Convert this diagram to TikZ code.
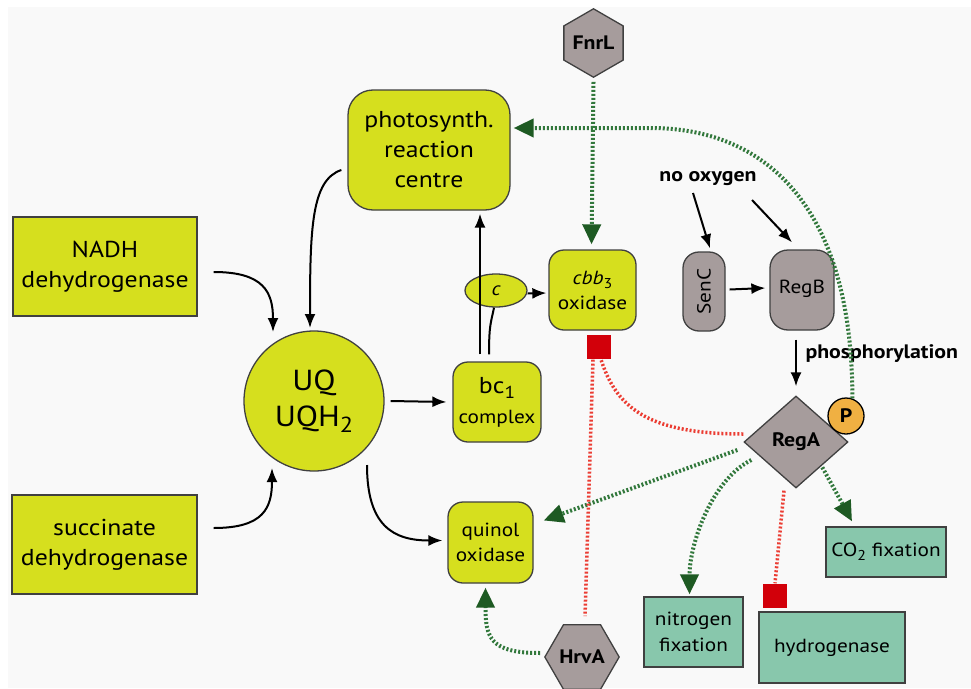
\documentclass[tikz,border=0pt]{standalone}
\usepackage{fontspec}
\setmainfont{PT Sans}[FakeStretch=1.12]
\usetikzlibrary{shapes,arrows.meta,positioning}
\definecolor{paper}{RGB}{249,249,249}
\definecolor{leaf}{RGB}{214,223,30}
\definecolor{stone}{RGB}{166,156,156}
\definecolor{sea}{RGB}{136,199,172}
\definecolor{amber}{RGB}{240,176,66}
\definecolor{stopred}{RGB}{210,0,10}
\definecolor{rline}{RGB}{235,60,50}
\definecolor{gline}{RGB}{50,120,60}
\definecolor{ghead}{RGB}{30,90,35}
\newcommand{\lowsub}[1]{\raisebox{-0.45ex}{\scalebox{0.75}{#1}}}

\begin{document}
\begin{tikzpicture}[x=1pt, y=-1pt,
		leafbox/.style={draw=black!75, line width=1.3pt, fill=leaf, align=center, inner sep=0pt, font=\fontsize{23}{30}\selectfont},
		midtext/.style={font=\fontsize{19}{25}\selectfont},
		greybox/.style={draw=black!75, line width=1.3pt, fill=stone, align=center, inner sep=0pt},
		tealbox/.style={draw=black!75, line width=1.3pt, fill=sea, align=center, inner sep=0pt, font=\fontsize{19}{26}\selectfont},
		boldtext/.style={font=\bfseries\fontsize{19.5}{22}\selectfont},
		stopper/.style={fill=stopred, minimum size=24pt, inner sep=0pt},
		blk/.style={line width=2pt, -{Latex[length=14pt,width=11pt]}},
		activ/.style={draw=gline, line width=4pt, dash pattern=on 2pt off 2pt, -{Triangle[length=20pt,width=18pt,color=ghead]}},
		repress/.style={draw=rline, line width=3.5pt, dash pattern=on 2pt off 2pt}]
	\fill[white] (0,0) rectangle (971,688);
	\fill[paper] (8,7) rectangle (971,688);
	\useasboundingbox (0,0) rectangle (971,688);

	\node [leafbox, minimum width=184pt, minimum height=99pt] (nadh) at (105,266.5) {NADH\\dehydrogenase};
	\node [leafbox, minimum width=185pt, minimum height=99pt] (succ) at (104.5,544.5) {succinate\\dehydrogenase};
	\node [leafbox, circle, minimum size=140pt, font=\fontsize{29}{36}\selectfont] (uq) at (314,401) {UQ\\UQH\lowsub{2}};
	\node [leafbox, rounded corners=25pt, minimum width=162pt, minimum height=120pt] (psr) at (429,150) {photosynth.\\reaction\\centre};
	\node [leafbox, rounded corners=15pt, minimum width=88pt, minimum height=80pt] (bc) at (497,402) {bc\lowsub{1}\\{\fontsize{19}{25}\selectfont complex}};
	\node [leafbox, ellipse, minimum width=62pt, minimum height=33pt, midtext] (cyt) at (496,290.5) {\itshape c};
	\node [leafbox, rounded corners=15pt, minimum width=87pt, minimum height=80pt, midtext] (cbb) at (592.5,290) {\textit{cbb}\lowsub{3}\\oxidase};
	\node [leafbox, rounded corners=15pt, minimum width=85pt, minimum height=81pt, midtext] (quinol) at (490.5,542.5) {quinol\\oxidase};

	\node [greybox, regular polygon, regular polygon sides=6, shape border rotate=30, minimum size=66pt, boldtext] (fnrl) at (593.5,43) {FnrL};
	\node [greybox, regular polygon, regular polygon sides=6, minimum size=70pt, boldtext] (hrva) at (582,657) {HrvA};
	\node [greybox, rounded corners=16pt, minimum width=42pt, minimum height=79pt, midtext] (senc) at (704,291.5) {\rotatebox{90}{SenC}};
	\node [greybox, rounded corners=18pt, minimum width=64pt, minimum height=80pt, midtext] (regb) at (802,290) {\raisebox{7pt}{RegB}};
	\node [greybox, diamond, minimum width=104pt, minimum height=92pt, boldtext] (rega) at (796,442) {RegA};
	\node [draw=black, line width=1.3pt, fill=amber, circle, minimum size=36pt, inner sep=0pt, boldtext] (pho) at (846,416) {P};

	\node [tealbox, minimum width=120pt, minimum height=50pt] (co2) at (886,552) {CO\lowsub{2} fixation};
	\node [tealbox, minimum width=99pt, minimum height=70pt] (nitro) at (693.5,632) {nitrogen\\fixation};
	\node [tealbox, minimum width=146pt, minimum height=71pt] (hyd) at (832,647.5) {hydrogenase};

	\node [stopper] (stopcbb) at (599,346.5) {};
	\node [stopper] (stophyd) at (775,595.5) {};

	\node [boldtext] (noox) at (708,179) {no oxygen};
	\node [boldtext, anchor=west] (phos) at (802,354) {phosphorylation};

	\draw [blk] ([shift={(16,5.5)}]nadh.east) .. controls +(50,0) and +(0,-40) .. ([shift={(-41,-69)}]uq.center);
	\draw [blk] ([shift={(16,-16.5)}]succ.east) .. controls +(50,0) and +(0,40) .. ([shift={(-42,67)}]uq.center);
	\draw [blk] ([shift={(-6,20)}]psr.west) .. controls +(-30,10) and +(0,-100) .. ([shift={(-4,-73)}]uq.center);
	\draw [blk] ([shift={(6,0)}]uq.east) -- ([shift={(-6,0)}]bc.west);
	\draw [blk] ([shift={(53,64)}]uq.center) .. controls +(0,60) and +(-50,0) .. ([shift={(-5,-2)}]quinol.west);
	\draw [blk] ([shift={(-17,-7)}]bc.north) -- ([shift={(51,3)}]psr.south);
	\draw [line width=2pt] ([shift={(-8,-7)}]bc.north) .. controls +(0,-30) and +(-3,15) .. ([shift={(-2,0)}]cyt.south);
	\draw [blk] ([shift={(0,3)}]cyt.east) -- ([shift={(-2,3)}]cbb.west);

	\draw [blk] ([shift={(-15,14)}]noox.center) -- ([shift={(6,-3)}]senc.north);
	\draw [blk] ([shift={(44,21)}]noox.center) -- ([shift={(-10,-7)}]regb.north);
	\draw [blk] ([shift={(4,-2)}]senc.east) -- ([shift={(-4,-2)}]regb.west);
	\draw [blk] ([shift={(-6,9)}]regb.south) -- ([shift={(0,-9)}]rega.north);

	\draw [activ] ([shift={(0,4)}]fnrl.south) -- ([shift={(-1,-5)}]cbb.north);
	\draw [activ] (pho.70) .. controls +(0,-198) and +(110,0) .. ([shift={(140,-22)}]psr.east) -- ([shift={(3,-22)}]psr.east);
	\draw [activ] ([shift={(-6,8)}]rega.west) -- ([shift={(10,-22)}]quinol.east);
	\draw [activ] ([shift={(8,18)}]rega.west) .. controls +(-40,20) and +(0,-50) .. ([shift={(-4,-2)}]nitro.north);
	\draw [activ] ([shift={(0,2)}]rega.south east) -- ([shift={(-34,-5)}]co2.north);
	\draw [activ] ([shift={(-4,-4)}]hrva.west) .. controls +(-50,0) and +(0,50) .. ([shift={(-5,4)}]quinol.south);

	\draw [repress] ([shift={(-6,1)}]stopcbb.south) -- ([shift={(3,-8)}]hrva.north);
	\draw [repress] ([shift={(0,-8)}]rega.west) .. controls +(-100,0) and +(15,45) .. ([shift={(2,1)}]stopcbb.south);
	\draw [repress] ([shift={(-12,2)}]rega.south) -- (stophyd.north);
\end{tikzpicture}
\end{document}
